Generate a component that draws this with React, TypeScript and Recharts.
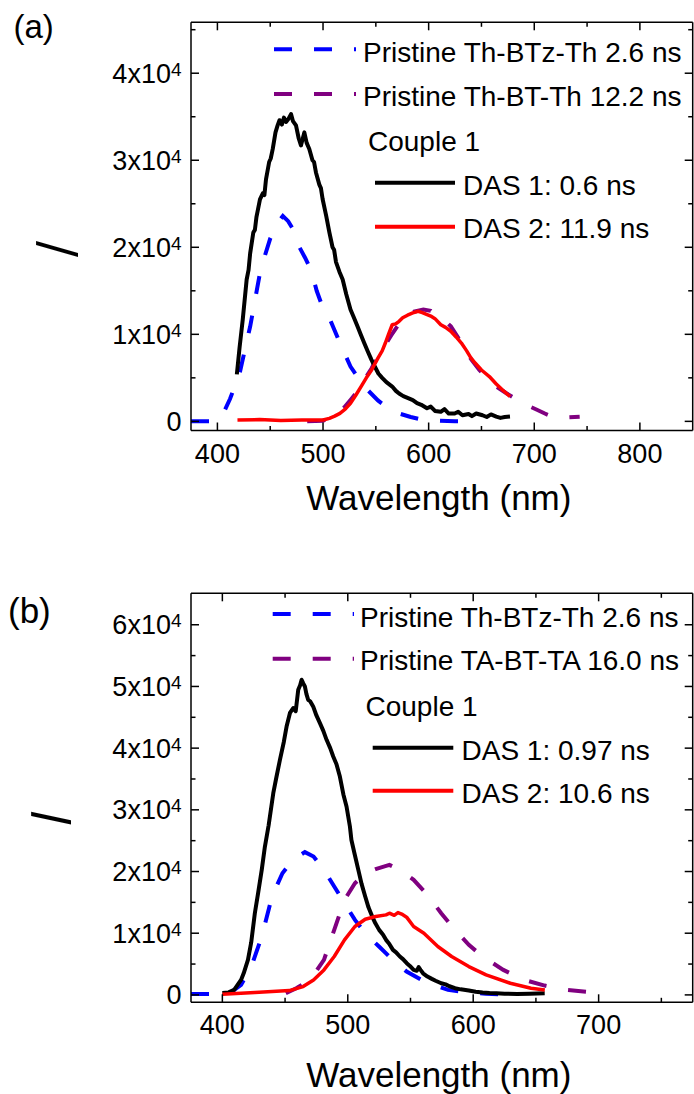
import React from 'react';
import { LineChart, Line, XAxis, YAxis, Legend } from 'recharts';

const FONT = "'Liberation Sans', Arial, Helvetica, sans-serif";
const BLUE = '#0000FF';
const PURPLE = '#800080';
const RED = '#FF0000';
const BLACK = '#000000';

// ---- panel (a) ----
const aBlueX = [375, 395, 404, 412, 421, 431, 441, 450, 457, 462, 467, 471, 475, 483, 489, 494, 500, 507, 516, 526, 539, 552, 562, 572, 583, 592, 605, 625, 630];
const aBlueY = [0, 0, 500, 2600, 5500, 10900, 17500, 21000, 22800, 23600, 23000, 22200, 20600, 18800, 17300, 15000, 13000, 11600, 9000, 6300, 4000, 2400, 1500, 900, 500, 250, 80, 0, 0];

const aPurpleX = [485, 500, 506, 513, 520, 526, 533, 539, 546, 552, 559, 566, 572, 579, 586, 595, 602, 608, 615, 621, 628, 634, 641, 648, 656, 664, 674, 684, 694, 703, 710, 717, 730, 743];
const aPurpleY = [0, 80, 400, 920, 1600, 2460, 3500, 4770, 6100, 7460, 8800, 10150, 11200, 12080, 12600, 12850, 12700, 12080, 11600, 10920, 9600, 8230, 7000, 5920, 4900, 4000, 3200, 2460, 1800, 1310, 900, 540, 450, 540];

const aBlackX = [418.4, 421, 424, 427.7, 429.5, 431, 434, 435.5, 437, 440.3, 443, 444.5, 446, 449, 450.5, 452.4, 455, 457, 458.8, 461, 463, 465, 467, 469.7, 471.5, 474.4, 477, 479.1, 482.3, 484.5, 487, 490, 491.5, 493.3, 496.5, 498, 499.6, 503, 506, 509, 510.5, 512.3, 515.5, 518.6, 522, 526, 529, 532.7, 536, 539, 542.5, 545.8, 549, 552.4, 556, 560, 565.5, 569, 572, 576, 580, 585, 589, 593, 598.4, 602, 606, 611.5, 615, 619, 624.6, 628, 632, 637.8, 641, 645, 651, 655, 659, 664, 668, 672, 677];
const aBlackY = [5400, 8500, 11700, 16300, 17400, 19300, 21700, 22000, 23500, 25500, 26200, 26000, 27800, 29800, 30200, 31300, 33200, 34000, 34600, 34100, 34900, 34400, 34700, 35300, 34500, 34000, 32500, 31700, 33200, 32000, 31300, 30000, 29800, 28600, 27200, 26800, 25550, 23600, 21700, 20000, 19700, 18300, 17200, 16300, 14600, 12850, 12000, 10900, 9900, 9000, 8000, 7100, 6300, 5500, 5000, 4500, 4000, 3500, 3200, 2900, 2700, 2450, 2100, 1900, 1500, 1700, 1200, 1100, 1400, 900, 900, 1100, 700, 850, 600, 900, 700, 500, 800, 550, 400, 500, 550];

const aRedX = [419, 440, 460, 480, 500, 506, 511, 516, 521, 526, 531, 536, 541, 546, 549, 552, 556, 559, 562, 565.5, 568.8, 572, 575.4, 580, 585, 590, 594, 598, 602, 606, 611.5, 616, 621, 626, 631, 636, 640, 644, 650, 657.5, 664, 670, 677];
const aRedY = [150, 200, 100, 150, 150, 350, 600, 920, 1400, 2080, 3000, 4000, 5000, 5900, 6600, 7270, 8100, 9000, 10000, 11100, 11200, 11500, 11900, 12200, 12460, 12650, 12500, 12300, 12100, 11800, 11100, 10800, 10350, 9700, 9000, 8100, 7300, 6700, 5900, 5150, 4300, 3600, 2850];

const aXTicks = [400, 450, 500, 550, 600, 650, 700, 750, 800];
const aYTicks = [0, 5000, 10000, 15000, 20000, 25000, 30000, 35000, 40000, 45000];

// ---- panel (b) ----
const bBlueX = [375, 395, 406.6, 414.9, 423.1, 431.4, 439.6, 447.9, 456.2, 465.8, 472.7, 481, 489.2, 497.4, 505.7, 513.9, 524.9, 535.9, 546.9, 557.9, 568.9, 579.9, 596.5, 610, 620];
const bBlueY = [150, 150, 380, 1620, 4590, 9460, 15950, 19730, 21900, 23140, 22430, 20270, 17570, 14860, 12160, 10000, 7840, 5680, 3780, 2540, 1620, 810, 380, 200, 100];

const bPurpleX = [450.6, 458.9, 469.9, 481, 489.2, 497.4, 505.7, 513.9, 522.2, 533.2, 541.5, 552.5, 563.5, 574.5, 585.5, 596.5, 607.5, 624, 640.6, 657, 673.6, 698.3];
const bPurpleY = [270, 1080, 2430, 5680, 10540, 15400, 18100, 19730, 20380, 21080, 20270, 18650, 16220, 13240, 10540, 8110, 6220, 4050, 2430, 1510, 810, 380];

const bBlackX = [400, 405, 409.4, 414.9, 417, 420.4, 423, 425.9, 428.5, 431.4, 433.9, 436.9, 440.6, 443, 445.9, 449, 451.2, 453.9, 456.5, 458.5, 460.5, 462, 463.2, 464.5, 465.8, 467, 468.4, 470, 472.4, 475, 477.8, 480.5, 483.1, 486, 488.4, 491, 493.7, 496.5, 499, 501.7, 502.9, 505.5, 508.4, 511, 513.9, 516.5, 519.5, 522, 525, 528, 530.5, 533, 536, 538.5, 541.5, 544, 547, 549.5, 552.5, 555, 556.5, 558, 560, 563.5, 567, 570, 574.5, 578, 581, 585.5, 590, 596.5, 602, 607.5, 613, 618.5, 625, 635, 645, 657];
const bBlackY = [300, 400, 810, 2430, 3500, 5680, 8500, 13240, 16500, 20270, 24000, 27500, 32700, 35200, 38100, 41000, 43500, 45700, 46500, 46000, 49460, 50200, 51080, 50500, 50000, 48800, 47840, 47600, 46760, 45300, 44050, 42800, 41350, 40000, 38650, 37400, 35400, 32500, 30540, 27300, 25100, 22800, 20270, 18000, 15950, 14200, 12700, 11600, 10540, 9800, 8920, 8300, 7300, 6900, 6220, 5800, 5140, 4700, 4050, 3900, 4500, 4050, 3500, 2970, 2600, 2300, 1890, 1700, 1400, 1080, 900, 700, 500, 380, 300, 270, 200, 160, 200, 270];

const bRedX = [400, 425.9, 453.4, 464.4, 472.7, 481, 489.2, 497.4, 505.7, 513.9, 522.2, 530.5, 533.2, 537, 540, 543, 546.9, 552.5, 560.7, 571.8, 582.8, 596.5, 610.3, 629.6, 646.1, 657.1];
const bRedY = [100, 380, 700, 1350, 2430, 4050, 6220, 8920, 11080, 12270, 12700, 12970, 13240, 12900, 13350, 13100, 12600, 11080, 10000, 7840, 6220, 4590, 3240, 1890, 1080, 810];

const bXTicks = [400, 450, 500, 550, 600, 650, 700, 750];
const bYTicks = [0, 5000, 10000, 15000, 20000, 25000, 30000, 35000, 40000, 45000, 50000, 55000, 60000];

const zip = (xs: number[], ys: number[]) => xs.map((x, i) => ({ x, y: ys[i] }));

const MAJOR = 8;
const MINOR = 4.5;

function xTick(side: 'bottom' | 'top') {
  return (props: any) => {
    const { x, y, payload } = props;
    const v = payload.value;
    const major = v % 100 === 0;
    const dir = side === 'bottom' ? -1 : 1;
    return (
      <g>
        <line x1={x} x2={x} y1={y} y2={y + dir * (major ? MAJOR : MINOR)} stroke={BLACK} strokeWidth={1.5} />
        {side === 'bottom' && major && (
          <text x={x} y={y + 32} textAnchor="middle" fontSize={27} fontFamily={FONT} fill={BLACK}>
            {v}
          </text>
        )}
      </g>
    );
  };
}

function yTick(side: 'left' | 'right') {
  return (props: any) => {
    const { x, y, payload } = props;
    const v = payload.value;
    const major = v % 10000 === 0;
    const dir = side === 'left' ? 1 : -1;
    return (
      <g>
        <line x1={x} x2={x + dir * (major ? MAJOR : MINOR)} y1={y} y2={y} stroke={BLACK} strokeWidth={1.5} />
        {side === 'left' && major && (
          <text x={x - 9.5} y={y + 9.5} textAnchor="end" fontSize={27} fontFamily={FONT} fill={BLACK}>
            {v === 0 ? '0' : `${v / 10000}x10`}
            {v !== 0 && (
              <tspan dy={-7} fontSize={19}>
                4
              </tspan>
            )}
          </text>
        )}
      </g>
    );
  };
}

interface LegendRow {
  kind: 'dash' | 'solid' | 'text';
  color?: string;
  x1?: number;
  x2?: number;
  ly?: number;
  tx: number;
  ty: number;
  text: string;
}

function Overlay({ tag, tagX, tagY, tagSize, rows }: { tag: string; tagX: number; tagY: number; tagSize: number; rows: LegendRow[] }) {
  return (
    <svg width={694} height={547} style={{ position: 'absolute', left: 0, top: 0, overflow: 'visible', pointerEvents: 'none' }}>
      <text x={tagX} y={tagY} fontSize={tagSize} fontFamily={FONT} fill={BLACK}>
        {tag}
      </text>
      {rows.map((r, i) => (
        <g key={i}>
          {r.kind !== 'text' && (
            <line
              x1={r.x1}
              x2={r.x2}
              y1={r.ly}
              y2={r.ly}
              stroke={r.color}
              strokeWidth={4}
              strokeDasharray={r.kind === 'dash' ? '18 22' : undefined}
            />
          )}
          <text x={r.tx} y={r.ty} fontSize={28} fontFamily={FONT} fill={BLACK}>
            {r.text}
          </text>
        </g>
      ))}
    </svg>
  );
}

const legendA: LegendRow[] = [
  { kind: 'dash', color: BLUE, x1: 274, x2: 356, ly: 49.3, tx: 363, ty: 61.7, text: 'Pristine Th-BTz-Th 2.6 ns' },
  { kind: 'dash', color: PURPLE, x1: 274, x2: 356, ly: 94, tx: 363, ty: 106, text: 'Pristine Th-BT-Th 12.2 ns' },
  { kind: 'text', tx: 368, ty: 151, text: 'Couple 1' },
  { kind: 'solid', color: BLACK, x1: 375, x2: 455, ly: 182.7, tx: 463, ty: 195, text: 'DAS 1: 0.6 ns' },
  { kind: 'solid', color: RED, x1: 375, x2: 455, ly: 226.7, tx: 463, ty: 238.3, text: 'DAS 2: 11.9 ns' },
];

const legendB: LegendRow[] = [
  { kind: 'dash', color: BLUE, x1: 272.7, x2: 354, ly: 67, tx: 360, ty: 79.7, text: 'Pristine Th-BTz-Th 2.6 ns' },
  { kind: 'dash', color: PURPLE, x1: 272.7, x2: 354, ly: 111.7, tx: 360, ty: 123, text: 'Pristine TA-BT-TA 16.0 ns' },
  { kind: 'text', tx: 365.5, ty: 169, text: 'Couple 1' },
  { kind: 'solid', color: BLACK, x1: 372.7, x2: 453.3, ly: 200.7, tx: 461.5, ty: 213, text: 'DAS 1: 0.97 ns' },
  { kind: 'solid', color: RED, x1: 372.7, x2: 453.3, ly: 243.7, tx: 461.5, ty: 255.7, text: 'DAS 2: 10.6 ns' },
];

interface PanelProps {
  top: number;
  bottom: number;
  xDomain: [number, number];
  yDomain: [number, number];
  xTicks: number[];
  yTicks: number[];
  blue: { x: number; y: number }[];
  purple: { x: number; y: number }[];
  black: { x: number; y: number }[];
  red: { x: number; y: number }[];
  titleOffset: number;
  iX: number;
  iY: number;
  iSize: number;
  iSkew: number;
  iScale: number;
  overlay: React.ReactNode;
}

function Panel(p: PanelProps) {
  return (
    <LineChart width={694} height={547} margin={{ top: p.top - 1, right: 0.3, left: 91, bottom: p.bottom }}>
      <XAxis
        xAxisId="b"
        type="number"
        dataKey="x"
        domain={p.xDomain}
        ticks={p.xTicks}
        interval={0}
        allowDataOverflow
        height={80}
        tickSize={0}
        tickMargin={0}
        tickLine={false}
        axisLine={{ stroke: BLACK, strokeWidth: 1.5 }}
        tick={xTick('bottom')}
        label={({ viewBox }: any) => (
          <text
            x={viewBox.x + viewBox.width / 2 - 3}
            y={viewBox.y + p.titleOffset}
            textAnchor="middle"
            fontSize={35}
            fontFamily={FONT}
            fill={BLACK}
          >
            Wavelength (nm)
          </text>
        )}
      />
      <XAxis
        xAxisId="t"
        orientation="top"
        type="number"
        dataKey="x"
        domain={p.xDomain}
        ticks={p.xTicks}
        interval={0}
        allowDataOverflow
        height={1}
        tickSize={0}
        tickMargin={0}
        tickLine={false}
        axisLine={{ stroke: BLACK, strokeWidth: 1.5 }}
        tick={xTick('top')}
      />
      <YAxis
        yAxisId="l"
        type="number"
        domain={p.yDomain}
        ticks={p.yTicks}
        interval={0}
        allowDataOverflow
        width={100}
        tickSize={0}
        tickMargin={0}
        tickLine={false}
        axisLine={{ stroke: BLACK, strokeWidth: 1.5 }}
        tick={yTick('left')}
        label={() => (
          <text
            transform={`translate(${p.iX},${p.iY}) rotate(-90) skewX(${-p.iSkew}) scale(${p.iScale},1)`}
            textAnchor="middle"
            dominantBaseline="central"
            fontSize={p.iSize}
            fontFamily={FONT}
            fill={BLACK}
          >
            I
          </text>
        )}
      />
      <YAxis
        yAxisId="r"
        orientation="right"
        type="number"
        domain={p.yDomain}
        ticks={p.yTicks}
        interval={0}
        allowDataOverflow
        width={1}
        tickSize={0}
        tickMargin={0}
        tickLine={false}
        axisLine={{ stroke: BLACK, strokeWidth: 1.5 }}
        tick={yTick('right')}
      />
      <Line xAxisId="b" yAxisId="l" data={p.blue} dataKey="y" type="linear" stroke={BLUE} strokeWidth={4} strokeDasharray="18 22" dot={false} isAnimationActive={false} />
      <Line xAxisId="b" yAxisId="l" data={p.purple} dataKey="y" type="linear" stroke={PURPLE} strokeWidth={4} strokeDasharray="18 22" dot={false} isAnimationActive={false} />
      <Line xAxisId="b" yAxisId="l" data={p.black} dataKey="y" type="linear" stroke={BLACK} strokeWidth={4} strokeLinejoin="round" dot={false} isAnimationActive={false} />
      <Line xAxisId="b" yAxisId="l" data={p.red} dataKey="y" type="linear" stroke={RED} strokeWidth={3.5} strokeLinejoin="round" dot={false} isAnimationActive={false} />
      <Legend
        layout="horizontal"
        verticalAlign="middle"
        align="center"
        wrapperStyle={{ left: 0, top: 0, width: 694, height: 547 }}
        content={() => p.overlay}
      />
    </LineChart>
  );
}

export default function App() {
  return (
    <div style={{ position: 'absolute', left: 0, top: 0, width: 694, height: 1094, background: '#fff' }}>
      <div style={{ position: 'absolute', left: 0, top: 0 }}>
        <Panel
          top={22.3}
          bottom={36.5}
          xDomain={[375, 850]}
          yDomain={[-1050, 45850]}
          xTicks={aXTicks}
          yTicks={aYTicks}
          blue={zip(aBlueX, aBlueY)}
          purple={zip(aPurpleX, aPurpleY)}
          black={zip(aBlackX, aBlackY)}
          red={zip(aRedX, aRedY)}
          titleOffset={79.5}
          iX={57}
          iY={249}
          iSize={61}
          iSkew={16}
          iScale={0.7}
          overlay={<Overlay tag="(a)" tagX={13.5} tagY={38} tagSize={33} rows={legendA} />}
        />
      </div>
      <div style={{ position: 'absolute', left: 0, top: 547 }}>
        <Panel
          top={46.3}
          bottom={11.7}
          xDomain={[375, 775]}
          yDomain={[-1200, 65100]}
          xTicks={bXTicks}
          yTicks={bYTicks}
          blue={zip(bBlueX, bBlueY)}
          purple={zip(bPurpleX, bPurpleY)}
          black={zip(bBlackX, bBlackY)}
          red={zip(bRedX, bRedY)}
          titleOffset={84.4}
          iX={51}
          iY={271}
          iSize={58}
          iSkew={12}
          iScale={0.8}
          overlay={<Overlay tag="(b)" tagX={8} tagY={75.6} tagSize={35} rows={legendB} />}
        />
      </div>
    </div>
  );
}
